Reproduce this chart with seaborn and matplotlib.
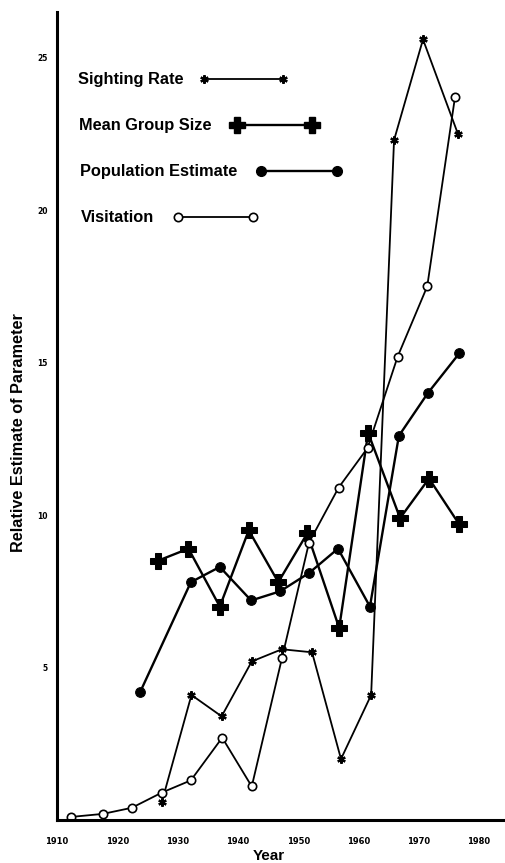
import numpy as np
import pandas as pd
import matplotlib
matplotlib.use("Agg")
import matplotlib.pyplot as plt
import seaborn as sns

# values
vis_years = [1912.3, 1917.6, 1922.4, 1927.4, 1932.2, 1937.4, 1942.3, 1947.3,
             1951.8, 1956.7, 1961.5, 1966.5, 1971.4, 1976.0]
visitation = [0.1, 0.2, 0.4, 0.9, 1.3, 2.7, 1.1, 5.3, 9.1, 10.9, 12.2, 15.2, 17.5, 23.7]

sight_years = [1927.4, 1932.3, 1937.3, 1942.3, 1947.3, 1952.3, 1957.1, 1962.1,
               1965.9, 1970.7, 1976.5]
sighting_rate = [0.6, 4.1, 3.4, 5.2, 5.6, 5.5, 2.0, 4.1, 22.3, 25.6, 22.5]

group_years = [1926.7, 1931.8, 1937.0, 1941.8, 1946.7, 1951.5, 1956.8, 1961.6,
               1966.9, 1971.7, 1976.7]
group_size = [8.5, 8.9, 7.0, 9.5, 7.8, 9.4, 6.3, 12.7, 9.9, 11.2, 9.7]

pop_years = [1923.8, 1932.2, 1937.0, 1942.2, 1947.0, 1951.8, 1956.6, 1961.9,
             1966.7, 1971.5, 1976.7]
population = [4.2, 7.8, 8.3, 7.2, 7.5, 8.1, 8.9, 7.0, 12.6, 14.0, 15.3]

x_ticks = [1910, 1920, 1930, 1940, 1950, 1960, 1970, 1980]
y_ticks = [5, 10, 15, 20, 25]

legend_labels = ["Sighting Rate", "Mean Group Size", "Population Estimate", "Visitation"]

sns.set_style("white")
plt.rcParams['font.family'] = ['Liberation Sans', 'DejaVu Sans']
plt.rcParams['text.color'] = 'black'
plt.rcParams['axes.labelcolor'] = 'black'
plt.rcParams['xtick.color'] = 'black'
plt.rcParams['ytick.color'] = 'black'

ASTER = (6, 2, 0)
styles = {
    "Sighting Rate": dict(marker=ASTER, markersize=6, markeredgewidth=1.6,
                          markerfacecolor="black", markeredgecolor="black"),
    "Mean Group Size": dict(marker="P", markersize=11, markerfacecolor="black",
                            markeredgecolor="black"),
    "Population Estimate": dict(marker="o", markersize=7, markerfacecolor="black",
                                markeredgecolor="black"),
    "Visitation": dict(marker="o", markersize=6, markerfacecolor="white",
                       markeredgecolor="black", markeredgewidth=1.2),
}
widths = {"Sighting Rate": 1.3, "Mean Group Size": 1.7,
          "Population Estimate": 1.7, "Visitation": 1.3}

fig = plt.figure(figsize=(5.05, 8.63), dpi=100)
ax = fig.add_axes([57 / 505, 43 / 863, 448 / 505, 808 / 863])

series = [
    ("Sighting Rate", sight_years, sighting_rate),
    ("Mean Group Size", group_years, group_size),
    ("Population Estimate", pop_years, population),
    ("Visitation", vis_years, visitation),
]
for name, xs, ys in series:
    sns.lineplot(x=xs, y=ys, ax=ax, color="black", linewidth=widths[name],
                 sort=False, estimator=None, **styles[name])

ax.set_xlim(1910, 1984.3)
ax.set_ylim(0, 26.5)
ax.set_xticks(x_ticks)
ax.set_yticks(y_ticks)
ax.tick_params(axis="both", direction="out", length=3, width=1)
ax.tick_params(axis="x", pad=9)
for lab in ax.get_xticklabels():
    lab.set_fontfamily("DejaVu Sans")
    lab.set_fontweight("bold")
    lab.set_fontsize(6)
for lab in ax.get_yticklabels():
    lab.set_fontfamily("DejaVu Sans")
    lab.set_fontweight("bold")
    lab.set_fontsize(5.5)

for side in ("top", "right"):
    ax.spines[side].set_visible(False)
for side in ("left", "bottom"):
    ax.spines[side].set_linewidth(2.2)
    ax.spines[side].set_color("black")

ax.set_xlabel("Year", fontsize=11, fontweight="bold")
ax.xaxis.set_label_coords(0.473, -0.036)
ax.set_ylabel("Relative Estimate of Parameter", fontsize=11.7, fontweight="bold")
ax.yaxis.set_label_coords(-0.07, 0.48)

# hand-drawn style key: label followed by a short sample line
key_rows = [
    (0.047, 0.917, 0.328, 0.504),
    (0.049, 0.860, 0.402, 0.569),
    (0.051, 0.803, 0.455, 0.625),
    (0.053, 0.746, 0.270, 0.4375),
]
for name, (tx, ty, h0, h1) in zip(legend_labels, key_rows):
    ax.text(tx, ty, name, transform=ax.transAxes, fontsize=11.8,
            fontweight="bold", va="center", ha="left")
    ax.plot([h0, h1], [ty, ty], transform=ax.transAxes, color="black",
            linewidth=widths[name], clip_on=False, **styles[name])

fig.savefig("out.png", dpi=100)
